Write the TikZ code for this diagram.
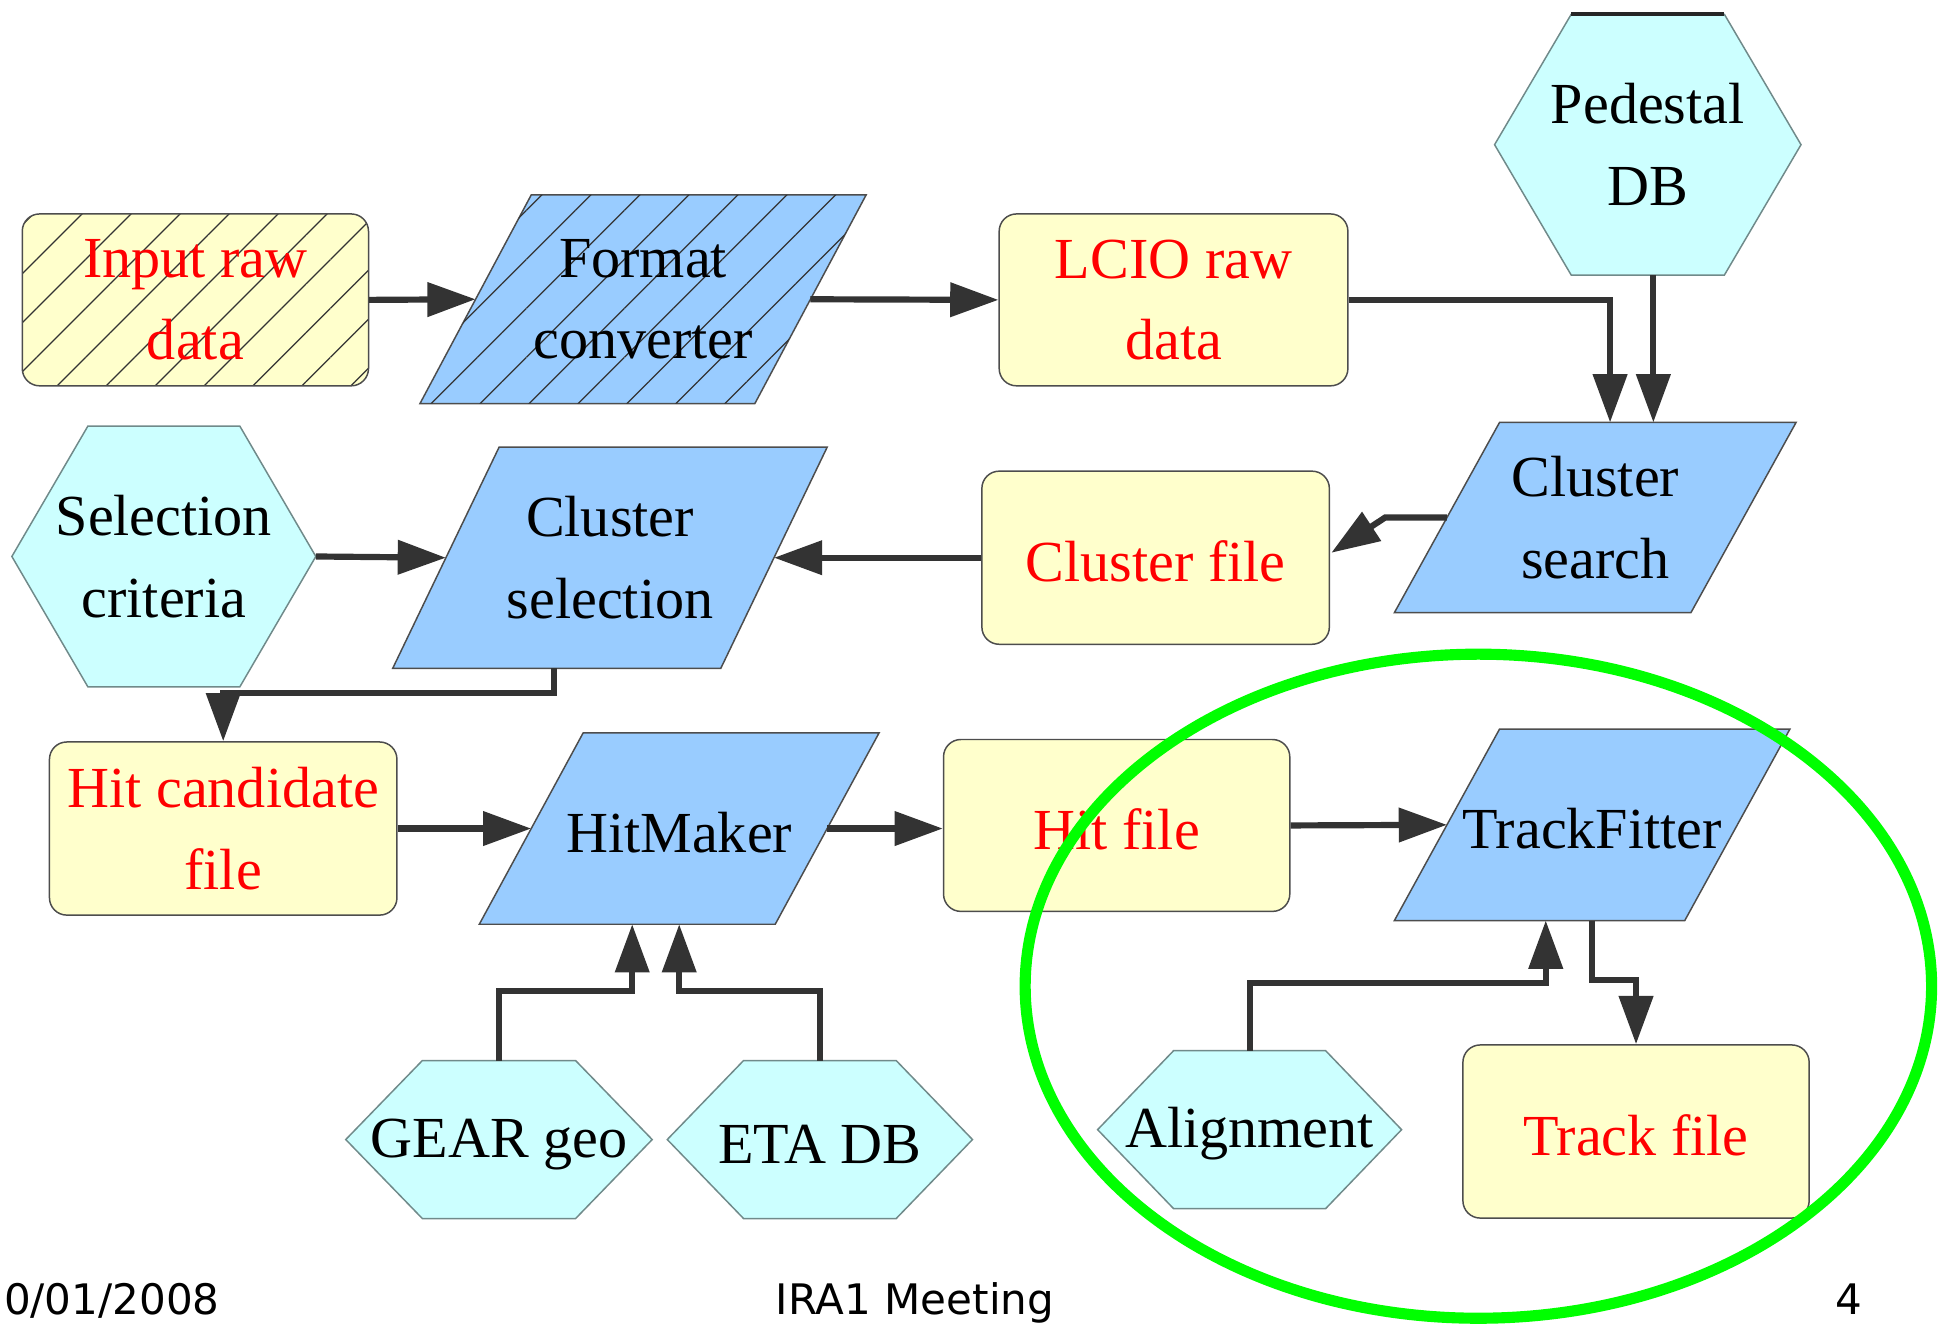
\documentclass[tikz,border=0pt]{standalone}
\usepackage{fontspec}
\setmainfont{Liberation Serif}
\newfontfamily\footfont{DejaVu Sans}
\usetikzlibrary{arrows.meta,calc,patterns.meta}
\pgfdeclarelayer{background}
\pgfsetlayers{background,main}
\definecolor{yel}{HTML}{FFFFCC}
\definecolor{blu}{HTML}{99CCFF}
\definecolor{cya}{HTML}{CCFFFF}
\definecolor{bordc}{HTML}{4D4D4D}
\definecolor{hexbord}{HTML}{708A8A}
\definecolor{arrc}{HTML}{333333}
\definecolor{hatchc}{HTML}{333333}
\definecolor{ringc}{HTML}{00FF00}
\definecolor{redt}{HTML}{FF0000}
\tikzset{
  lbl/.style={font=\fontsize{23.5}{33}\selectfont, align=center, execute at begin node={\rule{0pt}{19.5pt}}},
  filebox/.style={rectangle, rounded corners=7pt, draw=bordc, line width=0.6pt, fill=yel, text=redt, inner sep=0pt, lbl},
  plainbox/.style={rectangle, inner sep=0pt, lbl},
  parastyle/.style={fill=blu, draw=bordc, line width=0.6pt},
  hexstyle/.style={fill=cya, draw=hexbord, line width=0.6pt},
  hatch/.style={pattern={Lines[angle=45,distance=14pt,line width=0.5pt]}, pattern color=hatchc},
  arr/.style={draw=arrc, line width=2.5pt, -{Triangle[length=19.5pt,width=13.5pt]}},
  foot/.style={font=\footfont\fontsize{17}{20}\selectfont, inner sep=0pt}
}
\newcommand\drawpara[3]{%
  \begin{pgfonlayer}{background}
  \path[#3] ($(#1.north west)+(#2,0)$) -- ($(#1.north east)+(#2,0)$) -- ($(#1.south east)+(-#2,0)$) -- ($(#1.south west)+(-#2,0)$) -- cycle;
  \end{pgfonlayer}}
\newcommand\drawhex[2]{%
  \begin{pgfonlayer}{background}
  \path[#2] (#1.west) -- ($(#1.north west)!0.25!(#1.north east)$) -- ($(#1.north west)!0.75!(#1.north east)$) -- (#1.east) -- ($(#1.south west)!0.75!(#1.south east)$) -- ($(#1.south west)!0.25!(#1.south east)$) -- cycle;
  \end{pgfonlayer}}
\begin{document}
\begin{tikzpicture}[x=0.5pt,y=-0.5pt]
\useasboundingbox (0,0) rectangle (1568,1071);
\clip (0,0) rectangle (1568,1071);

% row 1
\node[filebox, preaction={fill=yel}, hatch, minimum width=140pt, minimum height=69.5pt] (inp) at (158,242.5) {Input raw\\data};
\node[plainbox, minimum width=135pt, minimum height=84pt] (fmt) at (520,242) {Format\\converter};
\drawpara{fmt}{45}{parastyle}
\drawpara{fmt}{45}{hatch}
\node[filebox, minimum width=141pt, minimum height=69.5pt] (lcio) at (949,242.5) {LCIO raw\\data};
\node[plainbox, minimum width=123.5pt, minimum height=105pt] (ped) at (1332.5,117) {Pedestal\\DB};
\drawhex{ped}{hexstyle}
\draw[line width=1.5pt, black!85] ($(ped.north west)!0.25!(ped.north east)$) -- ($(ped.north west)!0.75!(ped.north east)$);

% row 2
\node[plainbox, minimum width=119.5pt, minimum height=76.5pt] (cs) at (1290,418.5) {Cluster\\search};
\drawpara{cs}{42.5}{parastyle}
\node[plainbox, minimum width=122.5pt, minimum height=105pt] (sel) at (132.5,450) {Selection\\criteria};
\drawhex{sel}{hexstyle}
\node[plainbox, minimum width=132.25pt, minimum height=89pt] (csel) at (493.25,451) {Cluster\\selection};
\drawpara{csel}{43}{parastyle}
\node[filebox, minimum width=140.5pt, minimum height=70pt] (cfile) at (934.5,451) {Cluster file};

% row 3
\node[filebox, minimum width=140.5pt, minimum height=70pt] (hcand) at (180.5,670) {Hit candidate\\file};
\node[plainbox, minimum width=119.25pt, minimum height=77pt] (hm) at (549.25,670) {HitMaker};
\drawpara{hm}{42}{parastyle}
\node[filebox, minimum width=140pt, minimum height=69.5pt] (hfile) at (903,667.5) {Hit file};
\node[plainbox, minimum width=117pt, minimum height=77pt] (tf) at (1287.5,667) {TrackFitter};
\drawpara{tf}{42.5}{parastyle}

% row 4
\node[plainbox, minimum width=123.5pt, minimum height=63.5pt] (gear) at (403.5,921.5) {GEAR geo};
\drawhex{gear}{hexstyle}
\node[plainbox, minimum width=123pt, minimum height=63.5pt] (eta) at (663,921.5) {ETA DB};
\drawhex{eta}{hexstyle}
\node[plainbox, minimum width=122.5pt, minimum height=63.5pt] (align) at (1010.5,913.5) {Alignment};
\drawhex{align}{hexstyle}
\node[filebox, minimum width=140pt, minimum height=70pt] (tfile) at (1323,915) {Track file};

% connectors
\draw[arr] (inp.east) -- (fmt.west);
\draw[arr] (fmt.east) -- (lcio.west);
\coordinate (csinA) at ($(cs.north)+(12,0)$);
\coordinate (csinB) at ($(cs.north)+(47,0)$);
\draw[arr] (lcio.east) -| (csinA);
\draw[arr] (ped.south -| csinB) -- (csinB);
\coordinate (cfin) at ($(cfile.east)+(1,-4)$);
\draw[arr] (cs.west) -- ++(-50,0) -- (cfin);
\draw[arr] (cfile.west) -- (csel.east);
\draw[arr] (sel.east) -- (csel.west);
\coordinate (cselout) at ($(csel.south)+(-45,0)$);
\draw[arr] (cselout) -- ++(0,20) -| (hcand.north);
\draw[arr] (hcand.east) -- (hm.west);
\draw[arr] (hm.east) -- (hm.east -| hfile.west);
\draw[arr] (hfile.east) -- (tf.west);
\coordinate (hmA) at ($(hm.south)+(-38,0)$);
\draw[arr] (gear.north) -- ++(0,-56) -| (hmA);
\draw[arr] (eta.north) -- ++(0,-56) -| (hm.south);
\coordinate (tfA) at ($(tf.south)+(-37.5,0)$);
\draw[arr] (align.north) -- ++(0,-55) -| (tfA);
\draw[arr] (tf.south) -- ++(0,48) -| (tfile.north);

% green ring
\draw[line width=4.5pt, ringc] (1195.5,797.5) ellipse [x radius=366.5, y radius=268.5];

% footer
\node[foot, anchor=base east] (date) at (178,1063) {0/01/2008};
\node[foot, anchor=base west] (meet) at (627,1063) {IRA1 Meeting};
\node[foot, anchor=base east] (pg) at (1506,1063) {4};
\end{tikzpicture}
\end{document}
